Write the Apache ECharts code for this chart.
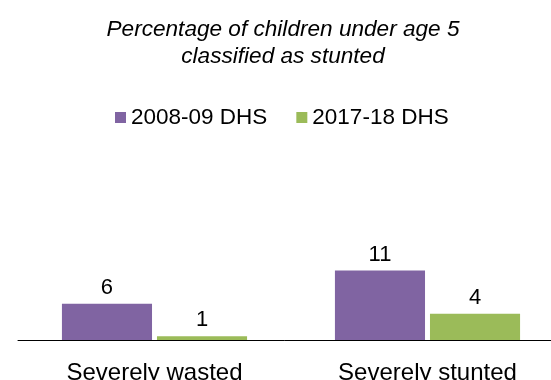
<!DOCTYPE html>
<html>
<head>
<meta charset="utf-8">
<script src="https://cdn.jsdelivr.net/npm/echarts@6/dist/echarts.min.js"></script>
<style>html,body{margin:0;padding:0;background:#fff;}#c{width:551px;height:380px;}</style>
</head>
<body>
<div id="c"></div>
<script>
var categories = ['Severely wasted', 'Severely stunted'];
var seriesNames = ['2008-09 DHS', '2017-18 DHS'];
var dhs2008 = [5.8, 11.1];
var dhs2017 = [0.6, 4.2];
var titleText = 'Percentage of children under age 5\nclassified as stunted';

var font = '"Liberation Sans", Arial, sans-serif';
var chart = echarts.init(document.getElementById('c'), null, {renderer: 'canvas'});
function lbl() {
  return {show: true, position: 'top', distance: 5, color: '#000', fontFamily: font, fontSize: 22,
    formatter: function (p) { return String(Math.round(p.value)); }};
}
chart.setOption({
  animation: false,
  backgroundColor: '#fff',
  title: {
    text: titleText,
    left: 278, top: 11, textAlign: 'center',
    textStyle: {fontFamily: font, fontSize: 22.6, fontStyle: 'italic', fontWeight: 'normal', color: '#000', lineHeight: 27}
  },
  legend: {
    data: seriesNames,
    left: 110, top: 101,
    itemWidth: 11, itemHeight: 11, itemGap: 29,
    icon: 'rect',
    textStyle: {fontFamily: font, fontSize: 22.5, color: '#000'}
  },
  grid: {left: 18, width: 546, bottom: 40, top: 152, outerBoundsMode: 'none', containLabel: false},
  xAxis: {
    type: 'category', data: categories,
    axisLine: {lineStyle: {color: '#000', width: 1}},
    axisTick: {show: false},
    axisLabel: {fontFamily: font, fontSize: 24, color: '#000', margin: 21}
  },
  yAxis: {type: 'value', min: 0, max: 30, show: false, splitLine: {show: false}},
  series: [
    {name: seriesNames[0], type: 'bar', data: dhs2008, barWidth: '33%', barGap: '5.5%',
      itemStyle: {color: '#8064A2'}, label: lbl()},
    {name: seriesNames[1], type: 'bar', data: dhs2017, barWidth: '33%', barGap: '5.5%',
      itemStyle: {color: '#9BBB59'}, label: lbl()}
  ]
});
</script>
</body>
</html>
